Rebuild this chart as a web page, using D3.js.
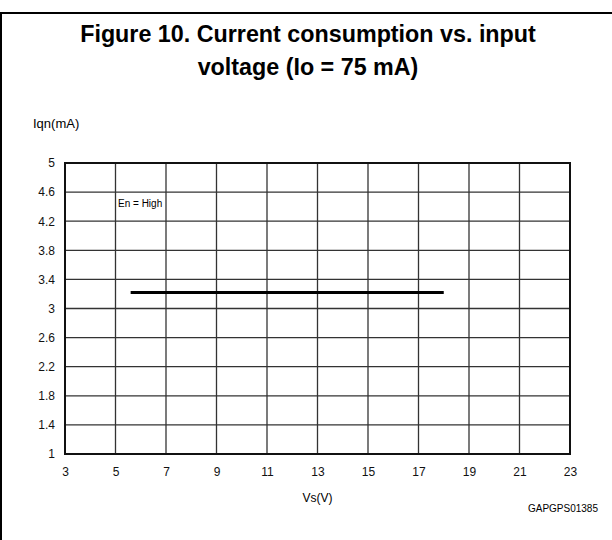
<!DOCTYPE html>
<meta charset="utf-8">
<style>
body { margin: 0; background: #fff; }
svg { font-family: "Liberation Sans", Arial, sans-serif; }
.grid line { stroke: #333; stroke-width: 1.3; }
.tick text { font-size: 12px; fill: #111; }
</style>
<svg width="612" height="540"></svg>
<script src="https://cdn.jsdelivr.net/npm/d3@7"></script>
<script>

// data
var xTicks = [3, 5, 7, 9, 11, 13, 15, 17, 19, 21, 23];
var yTicks = [1, 1.4, 1.8, 2.2, 2.6, 3, 3.4, 3.8, 4.2, 4.6, 5];
var vs = [5.6, 18];
var iqn = [3.22, 3.22];

var svg = d3.select("svg");

var margin = {left: 65, right: 42, top: 163, bottom: 86},
    width = 612 - margin.left - margin.right,
    height = 540 - margin.top - margin.bottom;

var x = d3.scaleLinear().domain([3, 23]).range([margin.left, margin.left + width]);
var y = d3.scaleLinear().domain([1, 5]).range([margin.top + height, margin.top]);

// page frame (left and top edges only visible)
svg.append("path")
    .attr("d", "M1,540V13H612")
    .attr("fill", "none")
    .attr("stroke", "#000")
    .attr("stroke-width", 2);

// title
var title = svg.append("text")
    .attr("text-anchor", "middle")
    .attr("font-size", 23.3)
    .attr("font-weight", "bold");
title.append("tspan").attr("x", 308).attr("y", 42).text("Figure 10. Current consumption vs. input");
title.append("tspan").attr("x", 308).attr("y", 75).text("voltage (Io = 75 mA)");

svg.append("text")
    .attr("x", 33).attr("y", 128)
    .attr("font-size", 13)
    .text("Iqn(mA)");

// grid
var grid = svg.append("g").attr("class", "grid");
grid.selectAll(".vx").data(xTicks.slice(1, -1)).enter().append("line")
    .attr("x1", x).attr("x2", x)
    .attr("y1", margin.top).attr("y2", margin.top + height);
grid.selectAll(".hy").data(yTicks.slice(1, -1)).enter().append("line")
    .attr("y1", y).attr("y2", y)
    .attr("x1", margin.left).attr("x2", margin.left + width);

svg.append("rect")
    .attr("x", margin.left).attr("y", margin.top)
    .attr("width", width).attr("height", height)
    .attr("fill", "none").attr("stroke", "#111").attr("stroke-width", 2);

// axes (labels only)
var xAxis = svg.append("g")
    .attr("transform", "translate(0," + (margin.top + height) + ")")
    .call(d3.axisBottom(x).tickValues(xTicks).tickFormat(d3.format("d")).tickSize(0).tickPadding(13));
var yAxis = svg.append("g")
    .attr("transform", "translate(" + margin.left + ",0)")
    .call(d3.axisLeft(y).tickValues(yTicks).tickFormat(function(d) { return +d.toFixed(1); }).tickSize(0).tickPadding(10));
svg.selectAll(".domain").remove();

svg.append("text")
    .attr("x", x(13)).attr("y", 502)
    .attr("text-anchor", "middle")
    .attr("font-size", 12)
    .text("Vs(V)");

svg.append("text")
    .attr("x", 598).attr("y", 512)
    .attr("text-anchor", "end")
    .attr("font-size", 10)
    .text("GAPGPS01385");

svg.append("text")
    .attr("x", 118).attr("y", 207)
    .attr("font-size", 10)
    .text("En = High");

// series
var line = d3.line()
    .x(function(d) { return x(d[0]); })
    .y(function(d) { return y(d[1]); });

svg.append("path")
    .datum(d3.zip(vs, iqn))
    .attr("d", line)
    .attr("fill", "none")
    .attr("stroke", "#000")
    .attr("stroke-width", 3);

</script>
